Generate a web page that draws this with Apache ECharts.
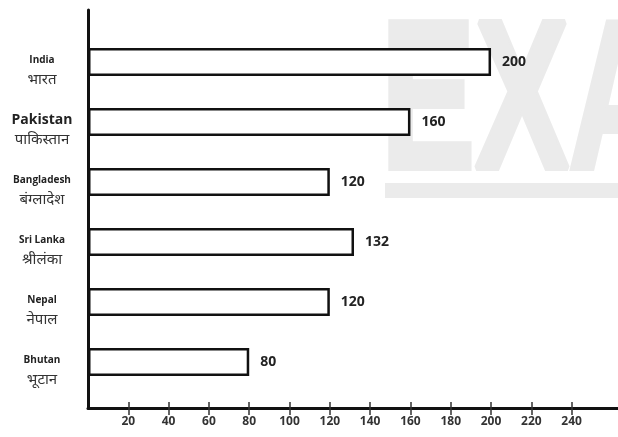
<!DOCTYPE html>
<html>
<head>
<meta charset="utf-8">
<script src="https://cdn.jsdelivr.net/npm/echarts@6/dist/echarts.min.js"></script>
<style>html,body{margin:0;padding:0;background:#fff}#c{width:618px;height:437px}</style>
</head>
<body>
<div id="c"></div>
<script>
const countriesEn = ['India', 'Pakistan', 'Bangladesh', 'Sri Lanka', 'Nepal', 'Bhutan'];
const countriesHi = ['भारत', 'पाकिस्तान', 'बंग्लादेश', 'श्रीलंका', 'नेपाल', 'भूटान'];
const values = [200, 160, 120, 132, 120, 80];
const tickValues = [20, 40, 60, 80, 100, 120, 140, 160, 180, 200, 220, 240];

const chart = echarts.init(document.getElementById('c'), null, {renderer: 'canvas'});
const X_MAX = 263;
const font = '"Open Sans", "Noto Sans", sans-serif';

chart.setOption({
  animation: false,
  backgroundColor: '#ffffff',
  graphic: [
    {type: 'text', x: 381, y: 3, scaleX: 0.69, scaleY: 1.04, z: -10, silent: true,
     style: {text: 'EXA', font: 'bold 204px "Liberation Sans", sans-serif', fill: '#ebebeb', stroke: '#ebebeb', lineWidth: 6}},
    {type: 'rect', left: 385, top: 183, z: -10, silent: true,
     shape: {width: 233, height: 15}, style: {fill: '#ebebeb'}}
  ],
  grid: [
    {left: 88, right: 0, top: 10, bottom: 29},
    {left: 88, right: 0, top: 32, height: 360}
  ],
  xAxis: [
    {
      gridIndex: 0, type: 'value', min: 0, max: X_MAX, interval: 20,
      axisLine: {show: true, lineStyle: {color: '#111', width: 3}},
      axisTick: {show: true, length: 7, customValues: tickValues, lineStyle: {color: '#333', width: 1.5}},
      axisLabel: {show: true, customValues: tickValues, margin: 8, fontFamily: font, fontWeight: 'bold', fontSize: 12, color: '#333',
        formatter: v => (v >= 20 && v <= 240) ? String(v) : ''},
      splitLine: {show: false}
    },
    {
      gridIndex: 0, type: 'value', min: 0, max: X_MAX, position: 'bottom', offset: 0,
      axisLine: {show: false},
      axisTick: {show: true, inside: true, length: 6, customValues: tickValues, lineStyle: {color: '#333', width: 1.5}},
      axisLabel: {show: false}, splitLine: {show: false}
    },
    {
      gridIndex: 1, type: 'value', min: 0, max: X_MAX, show: false, splitLine: {show: false}
    }
  ],
  yAxis: [
    {
      gridIndex: 0, type: 'value', min: 0, max: 1,
      axisLine: {show: true, lineStyle: {color: '#111', width: 3}},
      axisTick: {show: false}, axisLabel: {show: false}, splitLine: {show: false}
    },
    {
      gridIndex: 1, type: 'category', inverse: true, data: countriesEn,
      axisLine: {show: false}, axisTick: {show: false}, splitLine: {show: false},
      axisLabel: {
        margin: 46, align: 'center', padding: [20, 0, 0, 0],
        formatter: (v, i) => '{' + (i === 1 ? 'enb' : 'en') + '|' + v + '}\n{hi|' + countriesHi[i] + '}',
        rich: {
          en: {fontFamily: font, fontWeight: 'bold', fontSize: 10, color: '#222', lineHeight: 18, align: 'center'},
          enb: {fontFamily: font, fontWeight: 'bold', fontSize: 14, color: '#222', lineHeight: 18, align: 'center'},
          hi: {fontFamily: '"Noto Sans Devanagari", "Lohit Devanagari", "Mangal", sans-serif', fontSize: 15, color: '#333', lineHeight: 24, align: 'center'}
        }
      }
    }
  ],
  series: [{
    type: 'bar', xAxisIndex: 2, yAxisIndex: 1, data: values, barWidth: 28,
    itemStyle: {color: '#ffffff', borderColor: '#111', borderWidth: 2.5},
    label: {show: true, position: 'right', distance: 11, fontFamily: font, fontWeight: 'bold', fontSize: 14, color: '#222'}
  }]
});
</script>
</body>
</html>
